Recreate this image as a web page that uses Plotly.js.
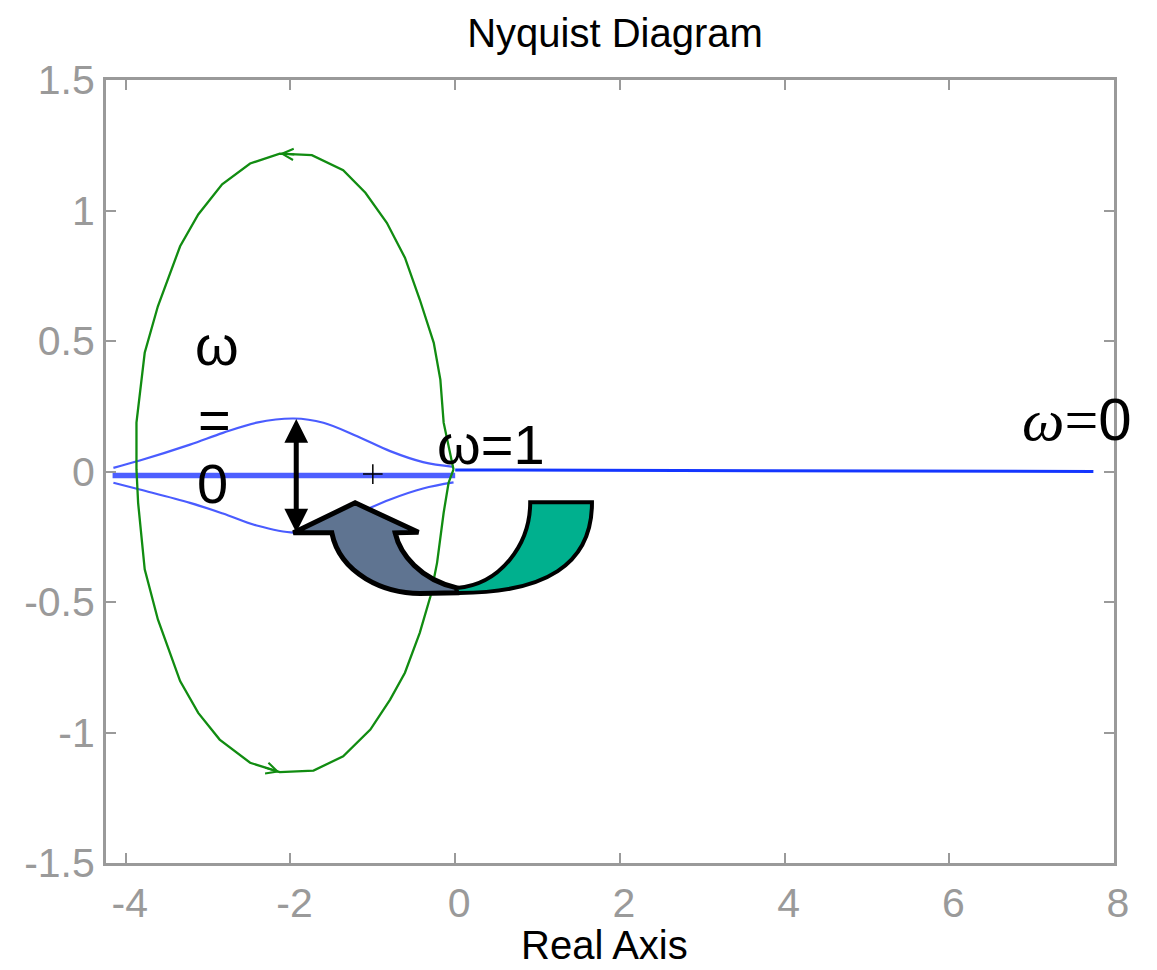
<!DOCTYPE html>
<html>
<head>
<meta charset="utf-8">
<script src="https://cdn.plot.ly/plotly-3.0.1.min.js"></script>
<style>html,body{margin:0;padding:0;background:#fff}#chart{width:1157px;height:970px}</style>
</head>
<body>
<div id="chart"></div>
<script>
// ---- data ----
const greenX = [-0.02,-0.06,-0.14,-0.18,-0.26,-0.43,-0.61,-0.83,-1.09,-1.36,-1.74,-2.13,-2.49,-2.83,-3.12,-3.34,-3.61,-3.77,-3.87,-3.87,-3.85,-3.77,-3.61,-3.34,-3.12,-2.86,-2.49,-2.13,-1.72,-1.36,-1.03,-0.79,-0.61,-0.43,-0.30,-0.22,-0.14,-0.08,-0.02];
const greenY = [0.008,0.072,0.187,0.352,0.493,0.659,0.819,0.953,1.068,1.154,1.212,1.218,1.180,1.100,0.985,0.863,0.633,0.455,0.187,0.008,-0.120,-0.375,-0.567,-0.803,-0.925,-1.027,-1.116,-1.152,-1.146,-1.091,-0.989,-0.874,-0.771,-0.618,-0.478,-0.350,-0.158,-0.043,0.008];
const greenArrowIdx = [11, 27];          // points where the direction chevrons sit
const blueRightX = [0, 7.75];
const blueRightY = [0.006, 0.0];
const blueMidX = [-4.16, 0];
const blueMidY = [-0.015, -0.015];
const blueUpperX = [-4.15,-3.83,-3.22,-2.82,-2.41,-1.96,-1.60,-1.19,-0.79,-0.39,-0.02];
const blueUpperY = [0.014,0.042,0.103,0.148,0.187,0.203,0.187,0.135,0.078,0.036,0.018];
const blueLowerX = [-4.15,-3.83,-3.22,-2.82,-2.41,-1.96,-1.60,-1.19,-0.79,-0.39,-0.02];
const blueLowerY = [-0.043,-0.069,-0.120,-0.161,-0.207,-0.234,-0.216,-0.161,-0.107,-0.065,-0.042];
const critX = [-1];
const critY = [-0.01];
const xTicks = [-4,-2,0,2,4,6,8];
const xTickText = ['-4','-2','0','2','4','6','8'];
const yTicks = [-1.5,-1,-0.5,0,0.5,1,1.5];
const yTickText = ['-1.5','-1','-0.5','0','0.5','1','1.5'];
const dblArrowX = -1.93;
const dblArrowTop = 0.207;
const dblArrowBottom = -0.234;

const SANS = 'Liberation Sans, Arial, sans-serif';
const GREY = '#9a9a9a';

const traces = [
  {x: blueMidX, y: blueMidY, mode: 'lines', line: {color: '#4d5fff', width: 5.5}, hoverinfo: 'skip'},
  {x: blueUpperX, y: blueUpperY, mode: 'lines', line: {color: '#4a5cff', width: 2.2, shape: 'spline', smoothing: 1}, hoverinfo: 'skip'},
  {x: blueLowerX, y: blueLowerY, mode: 'lines', line: {color: '#4a5cff', width: 2.2, shape: 'spline', smoothing: 1}, hoverinfo: 'skip'},
  {x: blueRightX, y: blueRightY, mode: 'lines', line: {color: '#1436ff', width: 3}, hoverinfo: 'skip'},
  {x: greenX, y: greenY, mode: 'lines', line: {color: '#118c11', width: 2.3}, hoverinfo: 'skip'},
  {x: critX, y: critY, mode: 'markers', marker: {symbol: 'cross-thin', size: 14, line: {color: '#000', width: 1.5}}, hoverinfo: 'skip'}
];

// decorative clip-art arrows (not data)
const shapes = [
  {type: 'path', xref: 'x', yref: 'y', layer: 'above',
   path: 'M -1.965,-0.235 L -1.215,-0.120 L -0.446,-0.233 L -0.729,-0.235 C -0.668,-0.318 -0.425,-0.414 0.021,-0.446 L 0.021,-0.465 L -0.425,-0.467 C -0.851,-0.467 -1.397,-0.395 -1.498,-0.235 Z',
   fillcolor: '#5f7491', line: {color: '#000', width: 5}},
  {type: 'path', xref: 'x', yref: 'y', layer: 'above',
   path: 'M 0.021,-0.465 C 1.094,-0.467 1.665,-0.356 1.661,-0.118 L 0.911,-0.118 C 0.911,-0.280 0.547,-0.433 0.021,-0.446 Z',
   fillcolor: '#00b08e', line: {color: '#000', width: 4}}
];

const annotations = [
  {x: dblArrowX, y: dblArrowBottom, ax: dblArrowX, ay: dblArrowTop, xref: 'x', yref: 'y', axref: 'x', ayref: 'y',
   showarrow: true, arrowhead: 2, startarrowhead: 2, arrowside: 'end+start', arrowwidth: 5, arrowsize: 0.95, startarrowsize: 0.95,
   arrowcolor: '#000', text: ''},
  {x: greenX[greenArrowIdx[0]], y: greenY[greenArrowIdx[0]], ax: 16, ay: 1, xref: 'x', yref: 'y',
   showarrow: true, arrowhead: 5, arrowwidth: 2, arrowsize: 1.1, arrowcolor: '#118c11', text: ''},
  {x: greenX[greenArrowIdx[1]], y: greenY[greenArrowIdx[1]], ax: -16, ay: -5, xref: 'x', yref: 'y',
   showarrow: true, arrowhead: 5, arrowwidth: 2, arrowsize: 1.1, arrowcolor: '#118c11', text: ''},
  {x: -2.89, y: 0.483, xref: 'x', yref: 'y', text: 'ω', showarrow: false, font: {family: SANS, size: 56, color: '#000'}},
  {x: -2.92, y: 0.200, xref: 'x', yref: 'y', text: '=', showarrow: false, font: {family: SANS, size: 56, color: '#000'}},
  {x: -2.95, y: -0.045, xref: 'x', yref: 'y', text: '0', showarrow: false, font: {family: SANS, size: 56, color: '#000'}},
  {x: 0.44, y: 0.105, xref: 'x', yref: 'y', text: 'ω=1', showarrow: false, font: {family: SANS, size: 56, color: '#000'}},
  {x: 7.55, y: 0.2, xref: 'x', yref: 'y', text: '<span style="font-family:Liberation Serif"><i>ω</i>=</span>0', showarrow: false, font: {family: SANS, size: 60, color: '#000'}},
  {x: 0.495, y: -0.1045, xref: 'paper', yref: 'paper', xanchor: 'center', yanchor: 'middle', text: 'Real Axis', showarrow: false, font: {family: SANS, size: 40, color: '#000'}}
];

const axisCommon = {
  ticks: 'inside', ticklen: 10, tickwidth: 2, tickcolor: GREY,
  showline: true, linecolor: GREY, linewidth: 3, mirror: 'ticks',
  showgrid: false, zeroline: false,
  tickfont: {family: SANS, size: 41, color: GREY}
};

const layout = {
  width: 1157, height: 970,
  margin: {l: 106, r: 43, t: 80, b: 107},
  paper_bgcolor: '#fff', plot_bgcolor: '#fff',
  showlegend: false,
  title: {text: 'Nyquist Diagram', font: {family: SANS, size: 40, color: '#000'}, x: 0.505, xref: 'paper', xanchor: 'center', y: 0.966, yref: 'container', yanchor: 'middle'},
  xaxis: Object.assign({}, axisCommon, {range: [-4.24, 8], tickmode: 'array', tickvals: xTicks, ticktext: xTickText, ticklabelshift: 4, ticklabelstandoff: 2}),
  yaxis: Object.assign({}, axisCommon, {range: [-1.5, 1.5], tickmode: 'array', tickvals: yTicks, ticktext: yTickText}),
  shapes: shapes,
  annotations: annotations
};

Plotly.newPlot('chart', traces, layout, {staticPlot: true, displayModeBar: false});
</script>
</body>
</html>
